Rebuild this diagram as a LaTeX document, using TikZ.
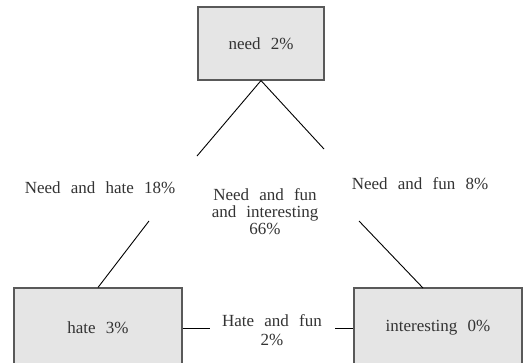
\documentclass[tikz,border=0pt]{standalone}
\usepackage{fontspec}
\setmainfont{Liberation Serif}[WordSpace=2.4]
\tikzset{
  box/.style={draw=black!65, fill=black!10, line width=1.1pt, text=black!80,
    font=\fontsize{17}{17}\selectfont},
  lbl/.style={text=black!80, align=center, font=\fontsize{17}{17}\selectfont},
  link/.style={draw=black, line width=0.9pt},
}
\begin{document}
\begin{tikzpicture}[x=1pt,y=-1pt]
      \clip (0,0) rectangle (529,362);
      \fill[white] (0,0) rectangle (529,362);

      \node[box, minimum width=126pt, minimum height=73pt] (need) at (261,43.5) {need 2\%};
      \node[box, minimum width=168pt, minimum height=80pt] (hate) at (98,328) {hate 3\%};
      \node[box, minimum width=168pt, minimum height=80pt] (interesting) at (438,328) {interesting 0\%};

      \node[lbl] (needhate) at (100,188) {Need and hate 18\%};
      \node[lbl] (needfun) at (420,184) {Need and fun 8\%};
      \node[lbl] (all) at (265,212) {Need and fun\\and interesting\\66\%};
      \node[lbl, font=\fontsize{17}{19.5}\selectfont] (hatefun) at (272,330) {Hate and fun\\2\%};

      \coordinate (nl) at (197,156);
      \coordinate (nr) at (324,149);
      \coordinate (hl) at (149,221);
      \coordinate (ir) at (359,221);
      \coordinate (hf) at (210,328);
      \coordinate (fi) at (335,328);
      \coordinate (itop) at (423,288);

      \draw[link] (need.south) -- (nl);
      \draw[link] (need.south) -- (nr);
      \draw[link] (hate.north) -- (hl);
      \draw[link] (itop) -- (ir);
      \draw[link] (hate.east) -- (hf);
      \draw[link] (interesting.west) -- (fi);
    \end{tikzpicture}
\end{document}
